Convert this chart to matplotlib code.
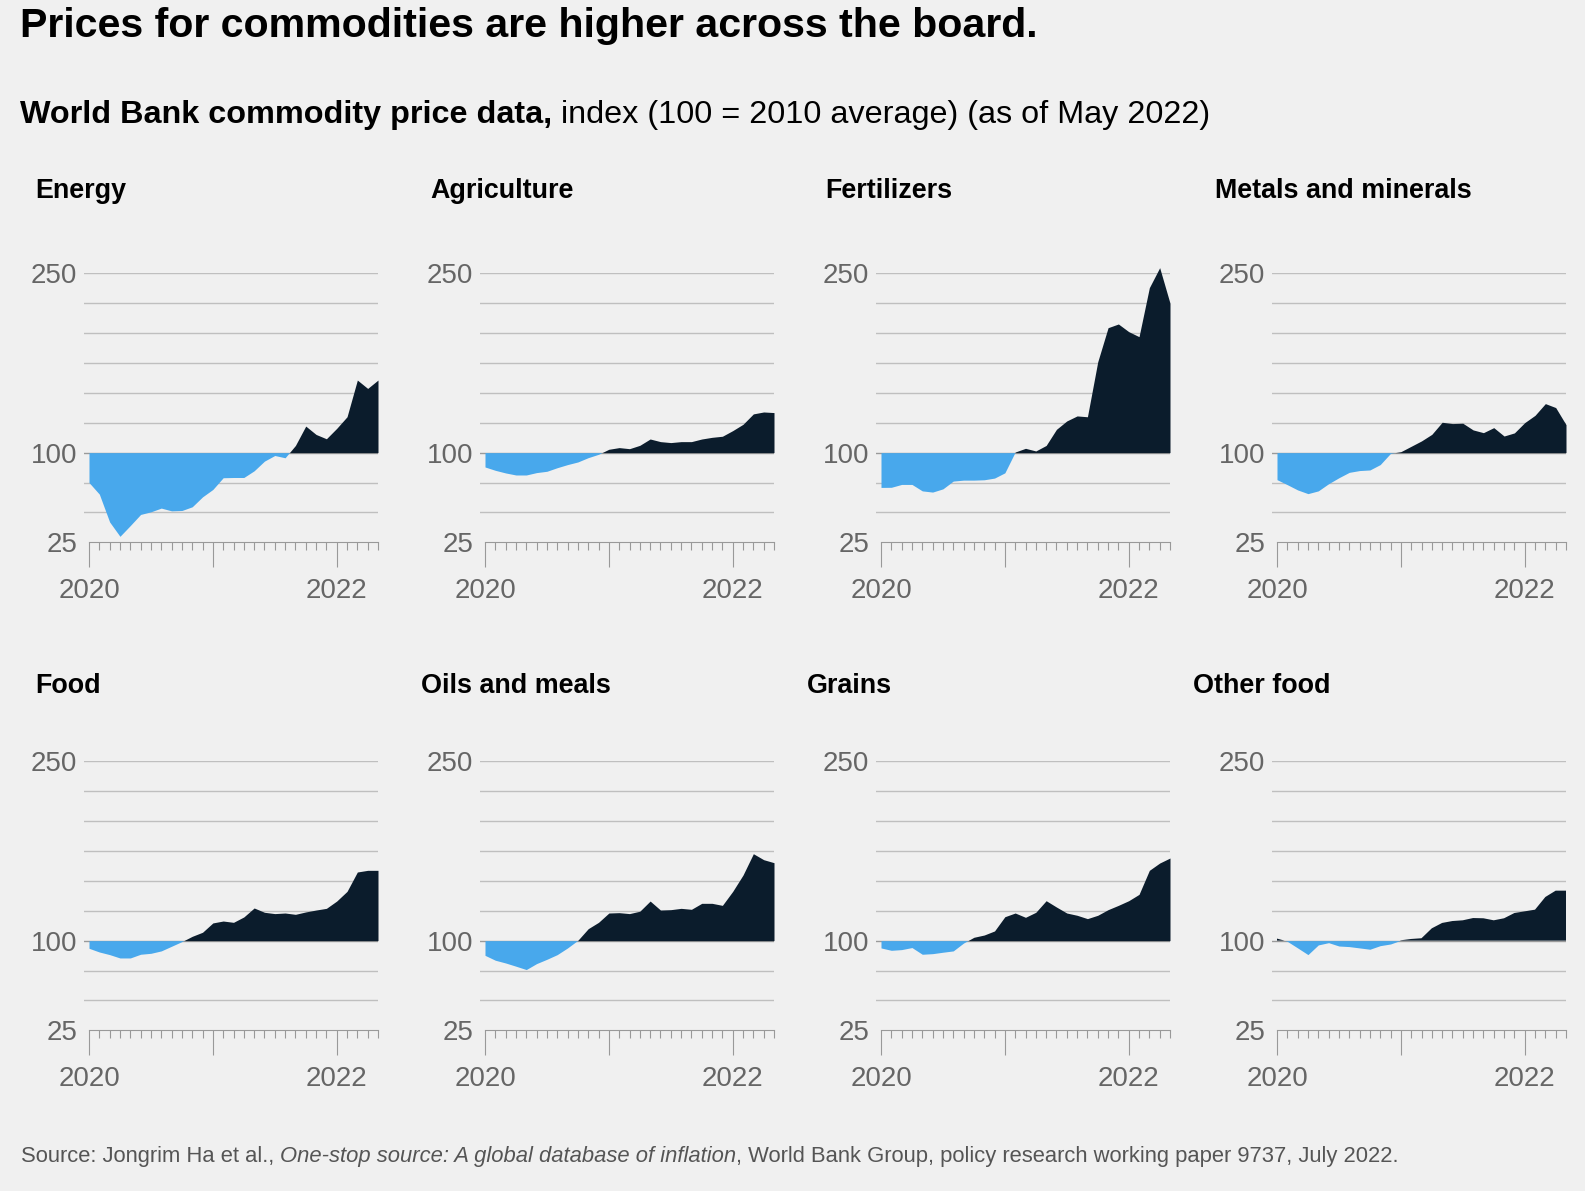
import numpy as np
import matplotlib.pyplot as plt
from matplotlib.ticker import FixedLocator

# monthly index, Jan 2020 .. May 2022
months = np.arange(29)

panel_names = ["Energy", "Agriculture", "Fertilizers", "Metals and minerals",
               "Food", "Oils and meals", "Grains", "Other food"]

energy = [75, 65.3, 42, 30, 39, 48.3, 50.5, 53.6, 51.3, 51.6, 54.7, 63,
          69.2, 79, 79.2, 79.2, 84.8, 92.9, 97.6, 95.7, 106, 122.2, 115.2, 111.6,
          120.3, 130, 160.7, 153.7, 160.7]
agriculture = [88, 85.2, 83, 81.3, 81.3, 83.3, 84.4, 87.4, 90, 92.2, 95.8, 98.6,
               102.8, 104.2, 103.3, 106.1, 111.4, 109.2, 108.4, 109.2, 109.2, 111.4, 112.8, 113.7,
               118.4, 123.7, 132.4, 134, 133.5]
fertilizers = [70.9, 71, 73.4, 73.4, 68, 67, 69.7, 76.2, 77, 77, 77.3, 78.7,
               83.1, 100.5, 103.6, 101.4, 106, 119.5, 126.5, 130.7, 130, 176, 204.5, 207.6,
               201.2, 197, 238, 254.7, 225]
metals = [77.4, 73.2, 68.8, 65.7, 68, 74, 79, 83.5, 85, 85.5, 90, 99.4,
          100.8, 105.3, 109.8, 115.3, 125.4, 124.3, 124.6, 119, 116.7, 120.9, 113.9, 116.5,
          125.1, 131.2, 141, 137.7, 123.4]
food = [93.6, 90.5, 88.3, 85.5, 85.5, 88.6, 89.4, 91.4, 95.3, 99.2, 103.6, 107,
        114.8, 116.4, 115.3, 119.8, 127.3, 123.7, 122.6, 123.1, 122, 124, 125.6, 127,
        133.1, 141.2, 157.4, 158.8, 158.8]
oils = [87.7, 83.6, 81.3, 78.6, 75.8, 80.8, 84.4, 88.3, 93.9, 100.3, 110, 115.3,
        123.1, 123.4, 122.6, 124.6, 133.1, 125.6, 125.9, 127, 126.2, 131.2, 131.2, 129.5,
        141.2, 154.9, 172.7, 167.7, 165.2]
grains = [93.9, 91.9, 92.5, 94.2, 88.6, 89.1, 90.3, 91.4, 98, 102.8, 104.7, 108.1,
          120, 123.1, 119.5, 123.7, 133.4, 128.1, 123.1, 121.2, 118.4, 121.2, 125.9, 129.5,
          133.4, 138.7, 158.8, 164.9, 169.1]
other_food = [101.7, 99.4, 93.9, 88.3, 96.4, 98.3, 95.5, 95, 93.9, 92.8, 95.8, 97.2,
              100.3, 101.4, 102, 110.3, 114.8, 116.4, 117, 118.9, 118.7, 117, 118.7, 123.1,
              124.5, 125.9, 136.5, 141.8, 141.8]

series = [energy, agriculture, fertilizers, metals, food, oils, grains, other_food]

y_ticks = [25, 100, 250]
x_ticks = [0, 12, 24]
x_labels = ["2020", "", "2022"]

W, H = 1585, 1191
BG = "#f0f0f0"
DARK = "#0b1c2c"
BLUE = "#48a8ec"
GREY = "#666666"

plt.rcParams["font.family"] = ["Liberation Sans", "DejaVu Sans"]

fig = plt.figure(figsize=(W / 100, H / 100), dpi=100, facecolor=BG)


def fx(px):
    return px / W


def fy(py):
    return 1 - py / H


# layout in pixels
col_left = [84, 480, 876, 1272]
row_top = [273.3, 761.3]
ax_w, ax_h = 294, 269
px_month = (378 - 89) / 28
title_x = [35, 430, 825, 1215, 35, 421, 807, 1193]
title_base = [198, 693]

for i, (name, vals) in enumerate(zip(panel_names, series)):
    r, c = divmod(i, 4)
    ax = fig.add_axes([fx(col_left[c]), fy(row_top[r] + ax_h), ax_w / W, ax_h / H])
    ax.set_facecolor(BG)
    vals = np.array(vals, dtype=float)

    for g in range(50, 251, 25):
        ax.axhline(g, color="#9a9a9a" if g == 100 else "#bfbfbf", lw=1, zorder=1)

    ax.fill_between(months, vals, 100, where=vals >= 100, interpolate=True,
                    color=DARK, lw=0, zorder=2, clip_on=False)
    ax.fill_between(months, vals, 100, where=vals <= 100, interpolate=True,
                    color=BLUE, lw=0, zorder=2, clip_on=False)

    ax.set_xlim(-5 / px_month, 28)
    ax.set_ylim(25, 250)

    ax.set_yticks(y_ticks)
    ax.set_yticklabels([str(t) for t in y_ticks])
    ax.tick_params(axis="y", length=0, pad=5, labelsize=20, labelcolor=GREY)

    ax.set_xticks(x_ticks)
    ax.set_xticklabels(x_labels)
    ax.xaxis.set_minor_locator(FixedLocator(months))
    ax.tick_params(axis="x", which="major", length=18, width=0.8, color="#999999",
                   pad=8, labelsize=20, labelcolor=GREY)
    ax.tick_params(axis="x", which="minor", length=5.5, width=0.8, color="#999999")

    for s in ["left", "top", "right"]:
        ax.spines[s].set_visible(False)
    ax.spines["bottom"].set_color("#999999")
    ax.spines["bottom"].set_linewidth(0.8)
    ax.spines["bottom"].set_bounds(0, 28)

    fig.text(fx(title_x[i]), fy(title_base[r]), name, fontsize=19.4,
             fontweight="bold", va="baseline", color="black")

fig.text(fx(20), fy(37), "Prices for commodities are higher across the board.",
         fontsize=29.6, fontweight="bold", va="baseline", color="black")

renderer = fig.canvas.get_renderer()


def chain(x_px, y_px, parts, size, color):
    x = fx(x_px)
    for txt, weight, style in parts:
        t = fig.text(x, fy(y_px), txt, fontsize=size, fontweight=weight,
                     fontstyle=style, va="baseline", color=color)
        bb = t.get_window_extent(renderer=renderer)
        x = bb.x1 / W


chain(20, 123, [("World Bank commodity price data, ", "bold", "normal"),
                ("index (100 = 2010 average) (as of May 2022)", "normal", "normal")],
      23.3, "black")

chain(21, 1162, [("Source: Jongrim Ha et al., ", "normal", "normal"),
                 ("One-stop source: A global database of inflation", "normal", "italic"),
                 (", World Bank Group, policy research working paper 9737, July 2022.",
                  "normal", "normal")],
      15.8, "#555555")

fig.savefig("out.png", dpi=100, facecolor=BG)
